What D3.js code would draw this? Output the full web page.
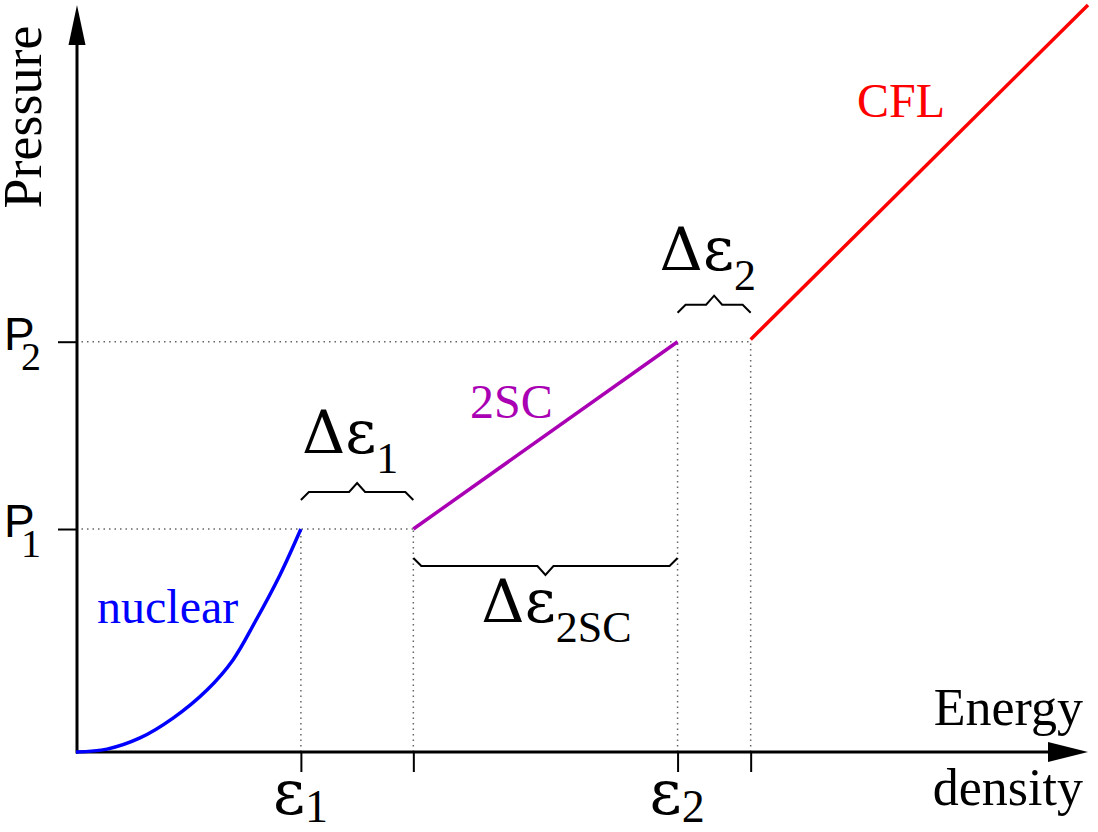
<!DOCTYPE html>
<html>
<head>
<meta charset="utf-8">
<script src="https://cdn.jsdelivr.net/npm/d3@7"></script>
<style>
    body { margin: 0; background: #fff; }
    text { font-family: "Liberation Serif", "Times New Roman", serif; }
    .greek { font-family: "DejaVu Serif", serif; }
</style>
</head>
<body>
<div id="chart-area"></div>
<script>
// Energy density thresholds (arbitrary units)
let eps1 = 2.0;
let eps1End = 3.0;
let eps2 = 5.35;
let eps2End = 6.0;

// Pressure levels P1, P2
let p1 = 1.0;
let p2 = 1.84;

// EOS branches as [energy density, pressure]
let nuclear = [[0, 0], [0.276, 0.013], [0.569, 0.063], [0.863, 0.152], [1.165, 0.278],
    [1.396, 0.413], [1.592, 0.583], [1.814, 0.794], [2.0, 1.0]];
let twoSC = [[3.0, 1.0], [5.35, 1.84]];
let cfl = [[6.0, 1.85], [9.0, 3.35]];

let margin = {top: 5, right: 10, bottom: 80, left: 76};
let width = 1098 - margin.left - margin.right;
let height = 832 - margin.top - margin.bottom;

let svg = d3.select("#chart-area").append("svg")
    .attr("width", width + margin.left + margin.right)
    .attr("height", height + margin.top + margin.bottom)
    .append("g")
    .attr("transform", "translate(" + margin.left + "," + margin.top + ")");

let xScale = d3.scaleLinear().domain([0, 9]).range([0, width]);
let yScale = d3.scaleLinear().domain([0, 3.35]).range([height, 0]);

// dotted guide lines
let guides = [
    [[0, p1], [eps1End, p1]],
    [[0, p2], [eps2End, p2]],
    [[eps1, 0], [eps1, p1]],
    [[eps1End, 0], [eps1End, p1]],
    [[eps2, 0], [eps2, p2]],
    [[eps2End, 0], [eps2End, p2]]
];
let line = d3.line().x(d => xScale(d[0])).y(d => yScale(d[1]));

svg.selectAll(".guide")
    .data(guides)
    .enter().append("path")
    .attr("class", "guide")
    .attr("d", line)
    .attr("fill", "none")
    .attr("stroke", "#666")
    .attr("stroke-width", 1.5)
    .attr("stroke-dasharray", "1.5,4");

// axes (ticks only, the arrows are drawn by hand)
let xAxis = d3.axisBottom(xScale)
    .tickValues([eps1, eps1End, eps2, eps2End])
    .tickSize(20)
    .tickFormat("");
let yAxis = d3.axisLeft(yScale)
    .tickValues([p1, p2])
    .tickSize(18)
    .tickFormat("");

svg.append("g")
    .attr("transform", "translate(0," + height + ")")
    .call(xAxis)
    .call(g => g.select(".domain").remove())
    .call(g => g.selectAll(".tick line").attr("stroke-width", 2));

svg.append("g")
    .call(yAxis)
    .call(g => g.select(".domain").remove())
    .call(g => g.selectAll(".tick line").attr("stroke-width", 2));

// axis lines with arrow heads
svg.append("line")
    .attr("x1", 0).attr("y1", height)
    .attr("x2", width - 38).attr("y2", height)
    .attr("stroke", "black").attr("stroke-width", 3);
svg.append("path")
    .attr("d", `M${width},${height} L${width - 40},${height - 10} L${width - 40},${height + 10} Z`)
    .attr("fill", "black");
svg.append("line")
    .attr("x1", 1).attr("y1", height + 1.5)
    .attr("x2", 1).attr("y2", 38)
    .attr("stroke", "black").attr("stroke-width", 3);
svg.append("path")
    .attr("d", `M1,0 L-7.5,40 L9.5,40 Z`)
    .attr("fill", "black");

// EOS curves
let curve = d3.line()
    .x(d => xScale(d[0]))
    .y(d => yScale(d[1]))
    .curve(d3.curveCatmullRom);

svg.append("path").datum(nuclear)
    .attr("d", curve).attr("fill", "none")
    .attr("stroke", "#0000ff").attr("stroke-width", 3.5);
svg.append("path").datum(twoSC)
    .attr("d", line).attr("fill", "none")
    .attr("stroke", "#aa00b4").attr("stroke-width", 3.5);
svg.append("path").datum(cfl)
    .attr("d", line).attr("fill", "none")
    .attr("stroke", "#ff0000").attr("stroke-width", 3.5);

// curly braces over the gaps
function brace(x0, x1, y, dir) {
    let a = xScale(x0), b = xScale(x1), m = (a + b) / 2;
    let y0 = yScale(y) + dir * 29, y1 = yScale(y) + dir * 37, y2 = yScale(y) + dir * 46;
    return `M${a},${y0} L${a + 8},${y1} L${m - 8},${y1} L${m},${y2} L${m + 8},${y1} L${b - 8},${y1} L${b},${y0}`;
}
let braces = [[eps1, eps1End, p1, -1], [eps1End, eps2, p1, 1], [eps2, eps2End, p2, -1]];
svg.selectAll(".brace")
    .data(braces)
    .enter().append("path")
    .attr("class", "brace")
    .attr("d", d => brace(d[0], d[1], d[2], d[3]))
    .attr("fill", "none")
    .attr("stroke", "black")
    .attr("stroke-width", 2);

// Delta epsilon labels
function deltaLabel(x, y, sub) {
    let t = svg.append("text")
        .attr("x", x).attr("y", y)
        .style("font-size", "60px");
    t.append("tspan").attr("class", "greek").text("Δε");
    t.append("tspan").attr("dy", 20).style("font-size", "44px").text(sub);
}
deltaLabel(xScale(eps1) + 1, yScale(p1) - 76, "1");
deltaLabel(xScale(eps1End) + 68, yScale(p1) + 93, "2SC");
deltaLabel(xScale(eps2) - 18, yScale(p2) - 72, "2");

// epsilon tick labels
function epsLabel(x, sub) {
    let t = svg.append("text")
        .attr("x", x - 28).attr("y", height + 62)
        .style("font-size", "62px");
    t.append("tspan").attr("class", "greek").text("ε");
    t.append("tspan").attr("dy", 8).style("font-size", "46px").text(sub);
}
epsLabel(xScale(eps1), "1");
epsLabel(xScale(eps2), "2");

// pressure tick labels
function pLabel(y, sub) {
    svg.append("text")
        .attr("x", -72).attr("y", yScale(y) + 8)
        .style("font-family", "'Liberation Sans', Arial, sans-serif")
        .style("font-size", "46px")
        .text("P");
    svg.append("text")
        .attr("x", -55).attr("y", yScale(y) + 28)
        .style("font-size", "40px")
        .text(sub);
}
pLabel(p1, "1");
pLabel(p2, "2");

// axis titles
svg.append("text")
    .attr("x", -112).attr("y", -35)
    .attr("transform", "rotate(-90)")
    .attr("text-anchor", "middle")
    .style("font-size", "54px")
    .text("Pressure");
svg.append("text")
    .attr("x", width - 5).attr("y", height - 27)
    .attr("text-anchor", "end")
    .style("font-size", "52px")
    .text("Energy");
svg.append("text")
    .attr("x", width - 5).attr("y", height + 53)
    .attr("text-anchor", "end")
    .style("font-size", "52px")
    .text("density");

// phase names
svg.append("text")
    .attr("x", 21).attr("y", 618)
    .attr("fill", "#0000ff")
    .style("font-size", "48px")
    .text("nuclear");
svg.append("text")
    .attr("x", 394).attr("y", 413)
    .attr("fill", "#aa00b4")
    .style("font-size", "48px")
    .text("2SC");
svg.append("text")
    .attr("x", 781).attr("y", 112)
    .attr("fill", "#ff0000")
    .style("font-size", "48px")
    .text("CFL");
</script>
</body>
</html>
